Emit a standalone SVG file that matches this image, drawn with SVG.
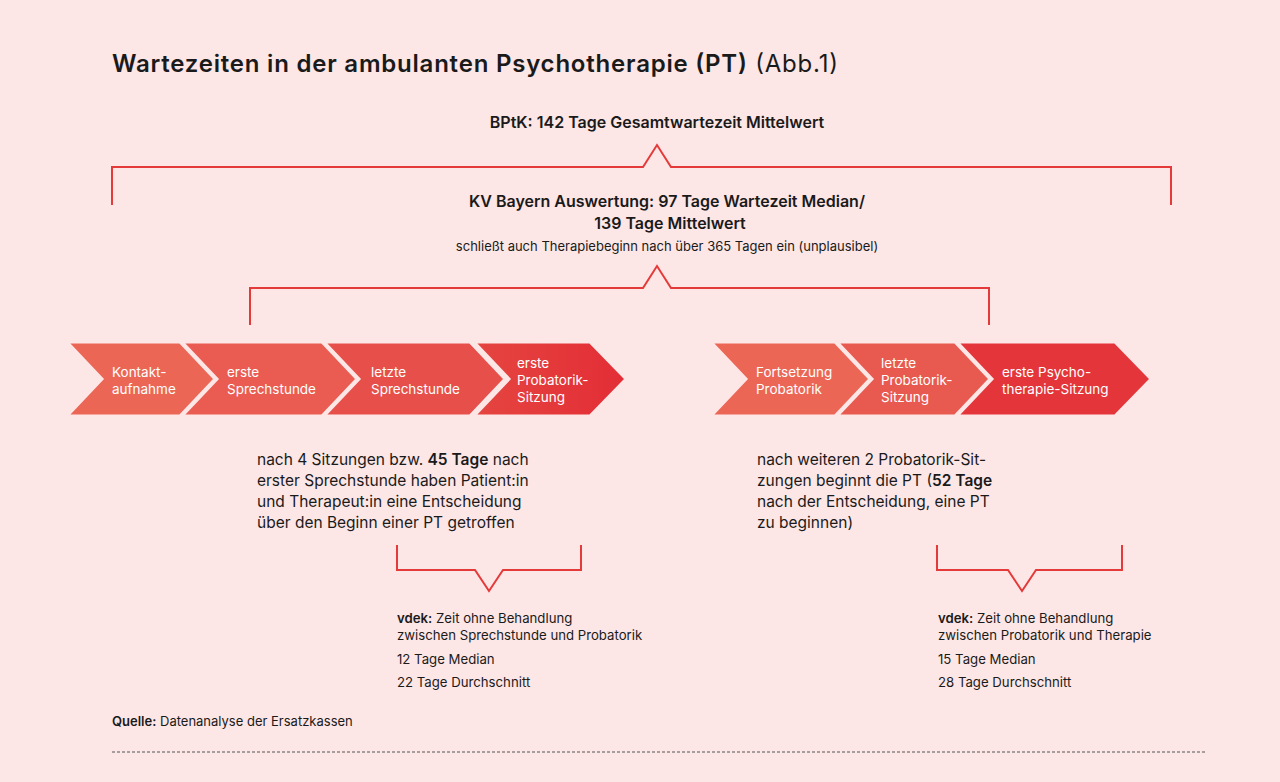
<svg xmlns="http://www.w3.org/2000/svg" width="1280" height="782" viewBox="0 0 1280 782">
<style>
text{font-family:Inter,"Liberation Sans",sans-serif;fill:#1a1a1a}
.w{fill:#fff;font-size:13.5px}
.b{font-weight:600}
.br{fill:none;stroke:#e53a3a;stroke-width:2}
.m{font-size:15.5px}
.s{font-size:13.2px}
.ch path{stroke:#fde6e6;stroke-width:3}
</style>
<defs>
<linearGradient id="g2" x1="0" x2="1"><stop offset="0" stop-color="#e54540"/><stop offset="1" stop-color="#e32d36"/></linearGradient>
</defs>
<rect width="1280" height="782" fill="#fde6e6"/>
<text x="112" y="72" font-size="24" textLength="726"><tspan class="b">Wartezeiten in der ambulanten Psychotherapie (PT)</tspan> (Abb.1)</text>
<g id="bptk"><text x="657" y="128" text-anchor="middle" class="b" font-size="16">BPtK: 142 Tage Gesamtwartezeit Mittelwert</text></g>
<g id="kv"><text x="667" y="207" text-anchor="middle" class="b" font-size="16">KV Bayern Auswertung: 97 Tage Wartezeit Median/</text>
<text x="670" y="229" text-anchor="middle" class="b" font-size="16">139 Tage Mittelwert</text>
<text x="667" y="251" text-anchor="middle" font-size="13">schließt auch Therapiebeginn nach über 365 Tagen ein (unplausibel)</text></g>
<g id="connectors">
<path class="br" d="M112,205V167H643L657,145L671,167H1171V205"/>
<path class="br" d="M250,325V288H643L657,266L671,288H989V325"/>
<path class="br" d="M397,545V570H475L489,591L503,570H581V545"/>
<path class="br" d="M937,545V570H1008L1022,591L1036,570H1122V545"/>
</g>
<g class="ch">
<g id="c1"><path fill="#ec6656" d="M67,342H180L215,379L180,416H67L102,379Z"/><text class="w" x="112" y="377">Kontakt-</text><text class="w" x="112" y="394">aufnahme</text></g>
<g id="c2"><path fill="#ea5c51" d="M182,342H322L357,379L322,416H182L217,379Z"/><text class="w" x="227" y="377">erste</text><text class="w" x="227" y="394">Sprechstunde</text></g>
<g id="c3"><path fill="#e7504a" d="M324,342H470L505,379L470,416H324L359,379Z"/><text class="w" x="371" y="377">letzte</text><text class="w" x="371" y="394">Sprechstunde</text></g>
<g id="c4"><path fill="url(#g2)" d="M474,342H590L626,379L590,416H474L509,379Z"/><text class="w" x="517" y="368">erste</text><text class="w" x="517" y="385">Probatorik-</text><text class="w" x="517" y="402">Sitzung</text></g>
<g id="c5"><path fill="#ec6656" d="M711,342H835L870,379L835,416H711L746,379Z"/><text class="w" x="756" y="377">Fortsetzung</text><text class="w" x="756" y="394">Probatorik</text></g>
<g id="c6"><path fill="#e85a4f" d="M837,342H955L990,379L955,416H837L872,379Z"/><text class="w" x="881" y="368">letzte</text><text class="w" x="881" y="385">Probatorik-</text><text class="w" x="881" y="402">Sitzung</text></g>
<g id="c7"><path fill="#e4353a" d="M957,342H1115L1151,379L1115,416H957L992,379Z"/><text class="w" x="1002" y="377">erste Psycho-</text><text class="w" x="1002" y="394">therapie-Sitzung</text></g>
</g>
<g id="t1">
<text x="257" y="465" class="m">nach 4 Sitzungen bzw. <tspan class="b">45 Tage</tspan> nach</text>
<text x="257" y="486" class="m">erster Sprechstunde haben Patient:in</text>
<text x="257" y="507" class="m">und Therapeut:in eine Entscheidung</text>
<text x="257" y="528" class="m">über den Beginn einer PT getroffen</text>
</g>
<g id="t2">
<text x="757" y="465" class="m">nach weiteren 2 Probatorik-Sit-</text>
<text x="757" y="486" class="m">zungen beginnt die PT (<tspan class="b">52 Tage</tspan></text>
<text x="757" y="507" class="m">nach der Entscheidung, eine PT</text>
<text x="757" y="528" class="m">zu beginnen)</text>
</g>
<g id="v1">
<text x="397" y="623" class="s"><tspan class="b">vdek:</tspan> Zeit ohne Behandlung</text>
<text x="397" y="640" class="s">zwischen Sprechstunde und Probatorik</text>
<text x="397" y="664" class="s">12 Tage Median</text>
<text x="397" y="687" class="s">22 Tage Durchschnitt</text>
</g>
<g id="v2">
<text x="938" y="623" class="s"><tspan class="b">vdek:</tspan> Zeit ohne Behandlung</text>
<text x="938" y="640" class="s">zwischen Probatorik und Therapie</text>
<text x="938" y="664" class="s">15 Tage Median</text>
<text x="938" y="687" class="s">28 Tage Durchschnitt</text>
</g>
<text x="112" y="726" font-size="13"><tspan class="b">Quelle:</tspan> Datenanalyse der Ersatzkassen</text>
<line x1="112" y1="752" x2="1205" y2="752" stroke="#555" stroke-dasharray="3,2" stroke-width="1"/>
</svg>
